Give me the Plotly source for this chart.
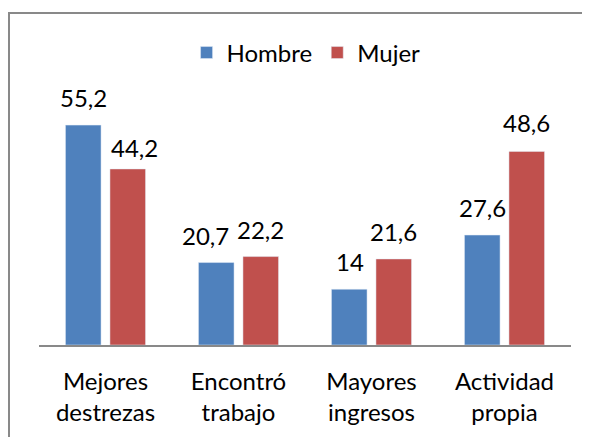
import plotly.graph_objects as go

categories = ["Mejores<br>destrezas", "Encontró<br>trabajo", "Mayores<br>ingresos", "Actividad<br>propia"]
hombre = [55.2, 20.7, 14, 27.6]
mujer = [44.2, 22.2, 21.6, 48.6]
hombre_labels = ["55,2", "20,7", "14", "27,6"]
mujer_labels = ["44,2", "22,2", "21,6", "48,6"]

# label nudges (pixels) as placed in the original chart
hombre_dx = [0, -11, 0, 0]
mujer_dx = [7, 0, 0, 0]
hombre_dy = [0, 0, 0, 0]
mujer_dy = [-6, 0, 0, 1]

FONT = "Lato"
FS = 24
BLUE = "#4F81BD"
RED = "#C0504D"

fig = go.Figure()
fig.add_trace(go.Bar(name="Hombre", x=categories, y=hombre, marker_color=BLUE))
fig.add_trace(go.Bar(name="Mujer", x=categories, y=mujer, marker_color=RED))

annotations = []
for cat, v, t, dx, dy in zip(categories, hombre, hombre_labels, hombre_dx, hombre_dy):
    annotations.append(dict(x=cat, y=v, text=t, xref="x", yref="y", showarrow=False,
                            xshift=-22 + dx, yshift=11 + dy, yanchor="bottom",
                            font=dict(family=FONT, size=FS, color="#000")))
for cat, v, t, dx, dy in zip(categories, mujer, mujer_labels, mujer_dx, mujer_dy):
    annotations.append(dict(x=cat, y=v, text=t, xref="x", yref="y", showarrow=False,
                            xshift=22 + dx, yshift=11 + dy, yanchor="bottom",
                            font=dict(family=FONT, size=FS, color="#000")))

fig.update_layout(
    width=590, height=437,
    margin=dict(l=31, r=27, t=98, b=100, autoexpand=False),
    paper_bgcolor="white", plot_bgcolor="white",
    barmode="group", bargap=0.331, bargroupgap=0.2,
    font=dict(family=FONT, size=FS, color="#000"),
    showlegend=True,
    legend=dict(orientation="h", x=0.502, xanchor="center", y=1.222, yanchor="middle",
                font=dict(family=FONT, size=FS), itemwidth=30, traceorder="normal"),
    annotations=annotations,
    shapes=[dict(type="rect", xref="paper", yref="paper",
                 x0=-0.0564, x1=1.3, y0=-0.6, y1=1.389,
                 line=dict(color="#898989", width=2), fillcolor="rgba(0,0,0,0)", layer="above")],
)
fig.update_xaxes(showline=True, linecolor="#898989", linewidth=2, ticks="", showgrid=False,
                 automargin=False, ticklabelstandoff=14,
                 tickfont=dict(family=FONT, size=FS))
fig.update_yaxes(range=[0, 60], visible=False, showgrid=False, zeroline=False, automargin=False)

fig.write_html("out.html")
